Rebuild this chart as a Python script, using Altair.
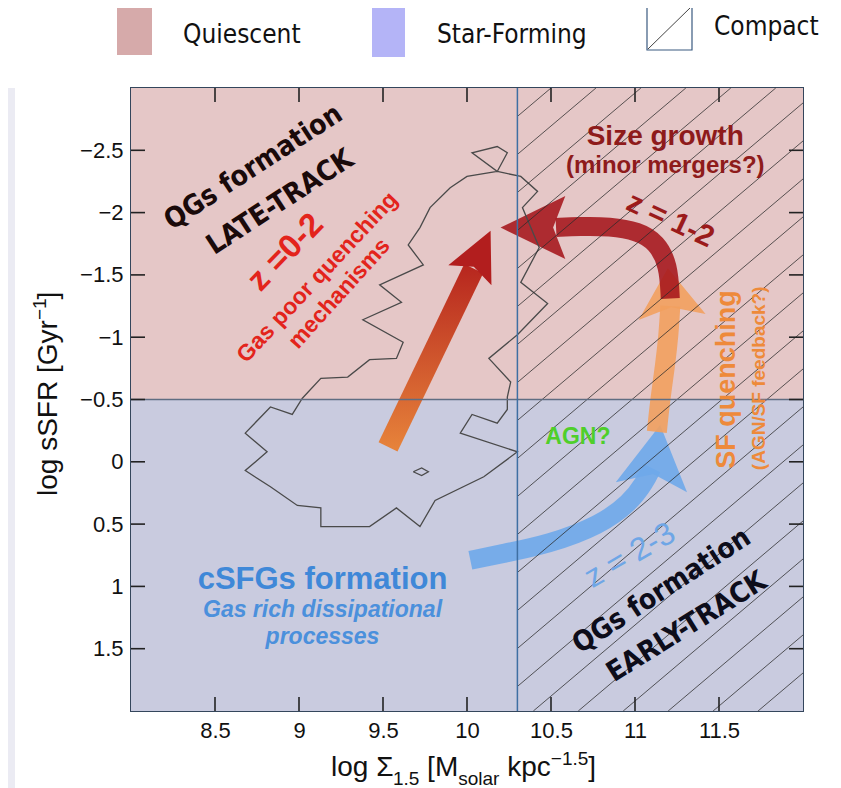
import altair as alt
import pandas as pd
import numpy as np

W, H = 672, 623

# ---------------- data ----------------
x_ticks = [8.5, 9, 9.5, 10, 10.5, 11, 11.5]
y_ticks = [-2.5, -2, -1.5, -1, -0.5, 0, 0.5, 1, 1.5]
x_domain = [8, 12]
y_domain = [-3, 2]

region_names = ["Quiescent", "Star-Forming"]
region_x = [8, 8]
region_x2 = [12, 12]
region_y = [-3, -0.5]
region_y2 = [-0.5, 2]
compact_x = 10.3
sf_boundary = -0.5

contour_x = [10.18, 10.32, 10.42, 10.33, 10.43, 10.32, 10.48, 10.30, 10.13, 10.26,
             10.24, 10.24, 10.18, 10.03, 9.96, 10.30, 10.10, 9.81, 9.72, 9.58,
             9.42, 9.13, 9.13, 8.99, 8.83, 8.68, 8.81, 8.68, 8.83, 8.96,
             9.02, 9.13, 9.29, 9.42, 9.58, 9.62, 9.38, 9.61, 9.48, 9.74,
             9.65, 9.72, 9.78, 9.90, 10.00, 10.18, 10.03, 10.18, 10.24, 10.18]
contour_y = [-2.33, -2.29, -2.17, -2.04, -1.72, -1.44, -1.27, -1.02, -0.83, -0.64,
             -0.52, -0.42, -0.31, -0.38, -0.23, -0.08, 0.12, 0.31, 0.52, 0.37,
             0.52, 0.52, 0.37, 0.35, 0.20, 0.07, -0.08, -0.23, -0.44, -0.38,
             -0.51, -0.67, -0.68, -0.82, -0.83, -0.96, -1.14, -1.28, -1.42, -1.58,
             -1.74, -1.88, -2.04, -2.20, -2.29, -2.33, -2.48, -2.53, -2.48, -2.33]
island_x = [9.68, 9.73, 9.77, 9.73, 9.68]
island_y = [0.08, 0.05, 0.08, 0.11, 0.08]

# arrows (shaft points and head centres, data coords)
late_shaft_x = [9.53, 10.04]
late_shaft_y = [-0.12, -1.55]
late_head = (10.07, -1.65)

blue_shaft_x = [10.02, 10.20, 10.49, 10.79, 10.97, 11.06, 11.10]
blue_shaft_y = [0.79, 0.74, 0.66, 0.51, 0.33, 0.16, 0.05]
blue_head = (11.12, -0.01)

orange_shaft_x = [11.13, 11.15, 11.18, 11.20, 11.21]
orange_shaft_y = [-0.24, -0.50, -0.78, -1.02, -1.25]
orange_head = (11.21, -1.33)

growth_shaft_x = [11.21, 11.20, 11.13, 11.02, 10.85, 10.67, 10.53]
growth_shaft_y = [-1.31, -1.58, -1.76, -1.85, -1.89, -1.89, -1.88]
growth_head = (10.42, -1.88)

ann_text = ["QGs formation", "LATE-TRACK", "z =0-2", "Gas poor quenching", "mechanisms",
            "Size growth", "(minor mergers?)", "z = 1-2", "SF quenching",
            "(AGN/SF feedback?)", "AGN?", "z = 2-3", "QGs formation", "EARLY-TRACK",
            "cSFGs formation", "Gas rich dissipational", "processes"]
ann_x = [8.73, 8.89, 8.92, 9.11, 9.24, 11.18, 11.18, 11.21, 11.55, 11.74, 10.66,
         10.97, 11.16, 11.31, 9.14, 9.14, 9.14]
ann_y = [-2.36, -2.08, -1.68, -1.48, -1.35, -2.61, -2.37, -1.94, -0.66, -0.67, -0.20,
         0.75, 1.04, 1.33, 0.95, 1.19, 1.41]

legend_labels = ["Quiescent", "Star-Forming", "Compact"]
x_title_parts = ["log Σ", "1.5", "[M", "solar", "kpc", "−1.5", "]"]
y_title_parts = ["log sSFR [Gyr", "−1", "]"]

# ---------------- styles ----------------
NARROW = "DejaVu Sans Condensed, Liberation Sans Narrow, sans-serif"
SANS = "Liberation Sans, Arial, Helvetica, sans-serif"
ann_style = [
    dict(font=NARROW, fontSize=28, fontWeight="bold", color="#1a0a0a", angle=327),
    dict(font=NARROW, fontSize=28, fontWeight="bold", color="#1a0a0a", angle=327),
    dict(font=SANS, fontSize=33, fontWeight="bold", color="#e3241c", angle=314),
    dict(font=SANS, fontSize=23, fontWeight="bold", color="#e3241c", angle=313),
    dict(font=SANS, fontSize=23, fontWeight="bold", color="#e3241c", angle=312),
    dict(font=SANS, fontSize=28, fontWeight="bold", color="#8e1b1b", angle=0),
    dict(font=SANS, fontSize=24, fontWeight="bold", color="#8e1b1b", angle=0),
    dict(font=SANS, fontSize=30, fontWeight="bold", color="#9b1b1b", angle=25),
    dict(font=SANS, fontSize=27, fontWeight="bold", color="#ee8a3a", angle=270),
    dict(font=SANS, fontSize=19, fontWeight="bold", color="#ee8a3a", angle=270),
    dict(font=SANS, fontSize=23, fontWeight="bold", color="#4fcf2a", angle=0),
    dict(font=SANS, fontSize=32, fontWeight="normal", color="#6ea6e6", angle=330),
    dict(font=NARROW, fontSize=28, fontWeight="bold", color="#0d0d1a", angle=327),
    dict(font=NARROW, fontSize=28, fontWeight="bold", color="#0d0d1a", angle=328),
    dict(font=SANS, fontSize=31, fontWeight="bold", color="#3f88d8", angle=0),
    dict(font=SANS, fontSize=23, fontWeight="bold", color="#4b90dc", angle=0, fontStyle="italic"),
    dict(font=SANS, fontSize=23, fontWeight="bold", color="#4b90dc", angle=0, fontStyle="italic"),
]

xs = alt.Scale(domain=x_domain, nice=False, zero=False)
ys = alt.Scale(domain=y_domain, nice=False, zero=False, reverse=True)
x_axis = alt.Axis(values=x_ticks, format="~g", ticks=False, domain=False, grid=False,
                  title=None, labelPadding=9, labelFontSize=22, labelFont=SANS,
                  labelColor="#111")
y_axis = alt.Axis(values=y_ticks, format="~g", ticks=False, domain=False, grid=False,
                  title=None, labelPadding=8, labelFontSize=22, labelFont=SANS,
                  labelColor="#111")
one = pd.DataFrame({"k": [0]})


def X(field="x"):
    return alt.X(f"{field}:Q", scale=xs, axis=x_axis)


def Y(field="y"):
    return alt.Y(f"{field}:Q", scale=ys, axis=y_axis)


def vrect(x1, x2, y1, y2, **mk):
    return alt.Chart(one).mark_rect(**mk).encode(
        x=alt.value(x1), x2=alt.value(x2), y=alt.value(y1), y2=alt.value(y2))


layers = []

# page strip at the far left
layers.append(vrect(-123, -116, 0, H + 77, color="#ebebf3"))

# background regions
reg = pd.DataFrame({"name": region_names, "x": region_x, "x2": region_x2,
                    "y": region_y, "y2": region_y2})
layers.append(
    alt.Chart(reg).mark_rect().encode(
        x=X(), x2="x2:Q", y=Y(), y2="y2:Q",
        color=alt.Color("name:N", scale=alt.Scale(domain=region_names,
                                                  range=["#e5c7c7", "#c9cbdf"]), legend=None),
    )
)


def shaft(xv, yv, **mk):
    df = pd.DataFrame({"x": xv, "y": yv, "i": range(len(xv))})
    return alt.Chart(df).mark_line(strokeCap="butt", **mk).encode(
        x=X(), y=Y(), order="i:Q")


def head(pos, shape, size, angle, color, opacity=1.0):
    df = pd.DataFrame({"x": [pos[0]], "y": [pos[1]]})
    return alt.Chart(df).mark_point(shape=shape, size=size, angle=angle, filled=True,
                                    color=color, opacity=opacity, strokeWidth=0).encode(
        x=X(), y=Y())


HEAD = "M0,-1L0.85,0.75L0,0.42L-0.85,0.75Z"
HEAD_WIDE = "M0,-1L1.2,0.75L0,0.4L-1.2,0.75Z"
HEAD_B = "M0,-1L1,0.75L0,0.38L-1,0.75Z"

# straight late-track arrow with gradient
layers.append(shaft(late_shaft_x, late_shaft_y, strokeWidth=21,
                    stroke={"gradient": "linear", "x1": 0, "y1": 1, "x2": 0, "y2": 0,
                            "stops": [{"offset": 0, "color": "#e6823a"},
                                      {"offset": 1, "color": "#b8281f"}]}))
layers.append(head(late_head, HEAD, 3136, 25, "#b21e1e"))

# blue arrow
layers.append(shaft(blue_shaft_x, blue_shaft_y, strokeWidth=19, color="#6ea8ea",
                    opacity=0.9, interpolate="basis"))
layers.append(head(blue_head, HEAD_B, 5184, 8, "#6ea8ea", 0.9))

# orange arrow
layers.append(shaft(orange_shaft_x, orange_shaft_y, strokeWidth=20, color="#f2a05e",
                    opacity=0.9, interpolate="basis"))
layers.append(head(orange_head, HEAD_WIDE, 3136, 355, "#f2a05e", 0.9))

# size-growth arrow
layers.append(shaft(growth_shaft_x, growth_shaft_y, strokeWidth=19, color="#a5161b",
                    opacity=0.88, interpolate="basis"))
layers.append(head(growth_head, HEAD, 5476, 270, "#a5161b", 0.88))

# contour
cdf = pd.DataFrame({"x": contour_x, "y": contour_y, "i": range(len(contour_x))})
layers.append(alt.Chart(cdf).mark_line(color="#4a4a4a", strokeWidth=1.3).encode(
    x=X(), y=Y(), order="i:Q"))
idf = pd.DataFrame({"x": island_x, "y": island_y, "i": range(len(island_x))})
layers.append(alt.Chart(idf).mark_line(color="#4a4a4a", strokeWidth=1.3).encode(
    x=X(), y=Y(), order="i:Q"))

# hatch pattern for compact region (style: slope & spacing)
slope = 1.14
step = 0.305
rows = []
c = x_domain[1] * slope + y_domain[1]
while c > compact_x * slope + y_domain[0]:
    xlo = max(compact_x, (c - y_domain[1]) / slope)
    xhi = min(x_domain[1], (c - y_domain[0]) / slope)
    if xhi > xlo:
        rows.append({"x": xlo, "y": c - slope * xlo, "x2": xhi, "y2": c - slope * xhi})
    c -= step
hdf = pd.DataFrame(rows)
layers.append(alt.Chart(hdf).mark_rule(color="#2a2a2a", strokeWidth=0.9, opacity=0.85).encode(
    x=X(), y=Y(), x2="x2:Q", y2="y2:Q"))

# boundaries
layers.append(alt.Chart(pd.DataFrame({"y": [sf_boundary]})).mark_rule(
    color="#5f6d82", strokeWidth=1.5).encode(y=Y()))
layers.append(alt.Chart(pd.DataFrame({"x": [compact_x]})).mark_rule(
    color="#3e6fa3", strokeWidth=1.5).encode(x=X()))

# inward ticks on all four sides
TL = 14
xt = pd.DataFrame({"x": x_ticks})
yt = pd.DataFrame({"y": y_ticks})
tick_kw = dict(color="#222", strokeWidth=1.6)
layers.append(alt.Chart(xt).mark_rule(**tick_kw).encode(x=X(), y=alt.value(H - TL), y2=alt.value(H)))
layers.append(alt.Chart(xt).mark_rule(**tick_kw).encode(x=X(), y=alt.value(0), y2=alt.value(TL)))
layers.append(alt.Chart(yt).mark_rule(**tick_kw).encode(y=Y(), x=alt.value(0), x2=alt.value(TL)))
layers.append(alt.Chart(yt).mark_rule(**tick_kw).encode(y=Y(), x=alt.value(W - TL), x2=alt.value(W)))

# annotations
for t, xv, yv, st in zip(ann_text, ann_x, ann_y, ann_style):
    df = pd.DataFrame({"x": [xv], "y": [yv], "t": [t]})
    layers.append(alt.Chart(df).mark_text(align="center", baseline="middle", **st).encode(
        x=X(), y=Y(), text="t:N"))


def ptext(text, x, y, size, align="left", angle=0, font=SANS, weight="normal",
          color="#111", baseline="alphabetic"):
    return alt.Chart(one).mark_text(text=text, align=align, baseline=baseline, angle=angle,
                                    font=font, fontSize=size, fontWeight=weight,
                                    color=color).encode(x=alt.value(x), y=alt.value(y))


# x title pieces
x0 = 200
layers.append(ptext(x_title_parts[0], x0, 688, 28))
layers.append(ptext(x_title_parts[1], x0 + 61.9, 697, 19))
layers.append(ptext(x_title_parts[2], x0 + 96.1, 688, 28))
layers.append(ptext(x_title_parts[3], x0 + 127.2, 697, 19))
layers.append(ptext(x_title_parts[4], x0 + 176.2, 688, 28))
layers.append(ptext(x_title_parts[5], x0 + 219.8, 677, 19))
layers.append(ptext(x_title_parts[6], x0 + 257.3, 688, 28))

# y title pieces (rotated)
yb = 408
layers.append(ptext(y_title_parts[0], -74, yb, 28, angle=270))
layers.append(ptext(y_title_parts[1], -85, yb - 176, 19, angle=270))
layers.append(ptext(y_title_parts[2], -74, yb - 196.5, 28, angle=270))

# legend
layers.append(vrect(-14, 21, -80, -33, color="#d6aaaa"))
layers.append(ptext(legend_labels[0], 52, -53, 26, font=NARROW, baseline="middle"))
layers.append(vrect(241, 274, -80, -31, color="#b4b4f7"))
layers.append(ptext(legend_labels[1], 306, -53, 26, font=NARROW, baseline="middle"))
layers.append(vrect(516, 561, -82, -38, fill="white", stroke="#3b5a80", strokeWidth=1.2))
layers.append(alt.Chart(one).mark_rule(color="#444", strokeWidth=1).encode(
    x=alt.value(517), x2=alt.value(560), y=alt.value(-39), y2=alt.value(-81)))
layers.append(ptext(legend_labels[2], 583, -61, 26, font=NARROW, baseline="middle"))

chart = alt.layer(*layers).properties(
    width=W, height=H,
    padding={"left": 123, "top": 80, "right": 30, "bottom": 77},
    autosize=alt.AutoSizeParams(type="none"),
).configure(background="white").configure_view(stroke="#34465c", strokeWidth=2)

chart.save("out.html", embed_options={"renderer": "svg", "actions": False})
